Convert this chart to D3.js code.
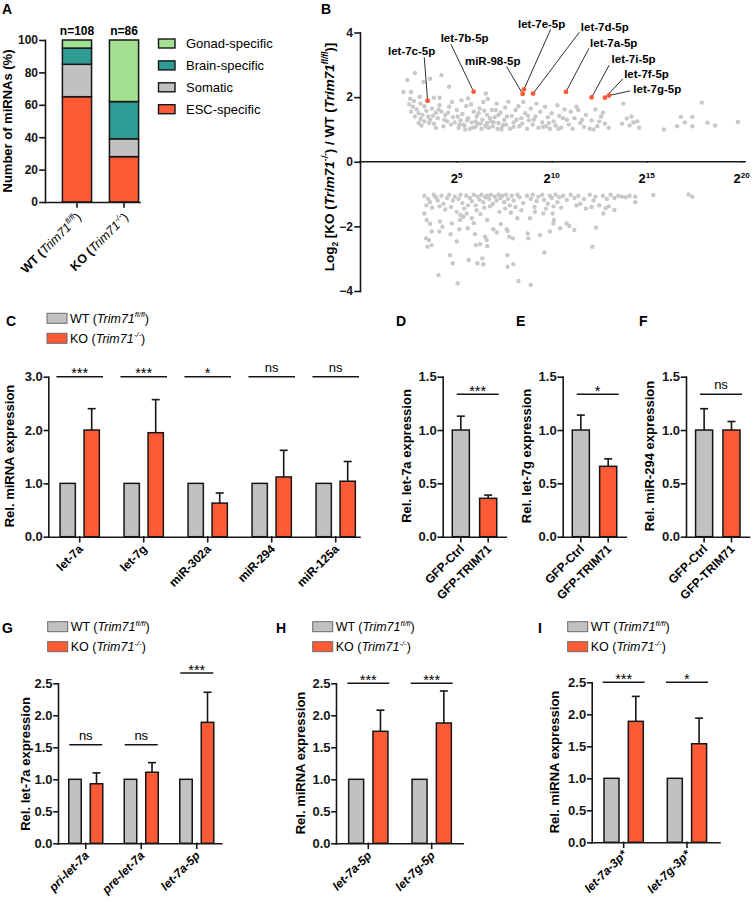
<!DOCTYPE html>
<html><head><meta charset="utf-8">
<script src="https://cdn.jsdelivr.net/npm/d3@7"></script>
<style>
body{margin:0;background:#fff;}
svg{font-family:"Liberation Sans",Arial,Helvetica,sans-serif;}
</style></head>
<body><svg id="fig" width="754" height="902"></svg>
<script>
// ---------------- DATA ----------------
// Panel A
const aGroups = ["WT", "KO"];
const aCategories = ["ESC-specific", "Somatic", "Brain-specific", "Gonad-specific"];
const aWT = [65, 20, 10, 5];
const aKO = [28, 11, 23, 38];
const aN = ["n=108", "n=86"];
const aTicks = [0, 20, 40, 60, 80, 100];

// Panel B  [log2(mean expression), log2 fold change]
const bUp = [[2.2,2.16],[2.4,2.53],[2.8,2.75],[2.6,2.16],[3.25,2.47],[3.6,2.57],[4.2,2.68],[4.6,2.32],[3.05,2.01],[3.8,1.98],[4.1,1.98],[2.55,1.95],
[2.5,1.78],[2.7,1.70],[2.9,1.62],[2.6,1.55],[3.0,1.50],[3.1,1.80],[3.3,1.72],[3.4,1.58],[3.2,1.45],[3.5,1.40],[3.7,1.65],[3.9,1.52],[3.6,1.30],[3.3,1.25],[3.8,1.18],[4.0,1.35],[4.2,1.55],[4.4,1.45],[4.5,1.25],[4.3,1.10],[3.9,1.05],[4.6,1.70],[4.7,1.15],[2.8,1.40],[3.1,1.33],[3.45,1.88],[4.1,1.75],[4.8,1.38],
[5.0,1.60],[5.1,1.05],[5.2,1.28],[5.3,1.48],[5.4,1.12],[5.5,1.72],[5.6,1.35],[5.6,1.96],[5.7,1.02],[5.8,1.22],[5.9,1.55],[6.0,1.08],[6.05,1.40],[6.1,1.18],[6.2,1.65],[6.3,1.02],[6.35,1.30],[6.4,1.85],[6.5,1.12],[6.53,2.11],[6.6,1.45],[6.63,1.94],[6.7,1.05],[6.8,1.25],[6.85,1.60],[6.9,1.10],[7.0,1.38],[7.1,1.80],[7.15,1.02],[7.2,1.20],[7.3,1.52],[7.4,1.08],[7.5,1.30],[7.55,1.68],[7.6,1.15],[7.72,1.86],[7.8,1.02],[7.9,1.42],[8.0,1.22],[5.25,1.90],[5.75,1.78],[6.15,1.50],[6.45,1.58],[6.75,1.35],[7.05,1.60],[7.35,1.00],[5.45,1.00],[6.0,1.25],[6.6,1.20],[7.2,1.45],
[8.1,1.60],[8.25,1.72],[8.3,1.10],[8.4,1.35],[8.6,1.50],[8.7,1.02],[8.8,1.28],[8.9,1.65],[9.0,1.15],[9.15,1.40],[9.3,1.05],[9.4,1.55],[9.5,1.22],[9.65,1.70],[9.7,1.10],[9.8,1.38],[9.9,1.02],[10.0,1.50],[10.1,1.25],[10.2,1.12],[10.4,1.42],[10.5,1.05],[10.67,1.62],[10.8,1.30],[10.9,1.15],[11.0,1.55],[8.5,1.85],[9.2,1.80],[10.3,1.75],[8.0,1.08],
[11.1,1.02],[11.2,1.35],[11.4,1.60],[11.5,1.20],[11.7,1.08],[11.8,1.45],[12.0,1.02],[12.1,1.28],[12.3,1.62],[12.4,1.10],[12.6,1.40],[12.7,1.52],[12.8,1.18],[13.0,1.05],[11.3,1.70],[12.2,1.00],[13.77,1.80],[13.95,1.34],[13.7,1.18],[14.3,1.22],[14.1,1.12],[14.5,1.25],[14.6,1.05],[14.2,1.40],
[15.9,1.00],[16.6,1.10],[16.8,1.39],[17.4,1.39],[17.4,1.10],[17.9,1.83],[18.2,1.21],[18.6,1.12],[19.8,1.23],[17.0,1.22],
[3.15,1.12],[3.55,1.20],[3.75,1.42],[4.05,1.62],[4.35,1.30],[4.55,1.52],[4.9,1.22],[5.05,1.40],[5.35,1.15],[5.55,1.28],[5.85,1.05],[6.25,1.18],[6.55,1.08],[6.95,1.22],[7.45,1.15],[7.65,1.40],[8.15,1.30],[8.45,1.18],[8.75,1.42],[9.05,1.30],[9.55,1.08],[9.85,1.20],[10.35,1.02],[10.6,1.35],[11.6,1.30],[12.5,1.25],[3.0,1.20],[2.75,1.88],[4.75,1.85],[5.15,1.15]];
const bDown = [[3.3,-1.05],[3.5,-1.15],[3.6,-1.25],[3.8,-1.02],[3.9,-1.10],[4.0,-1.20],[4.2,-1.05],[4.3,-1.30],[4.5,-1.12],[4.6,-1.02],[4.8,-1.20],[4.9,-1.08],[5.1,-1.15],[5.2,-1.02],[5.3,-1.28],[5.5,-1.05],[5.7,-1.12],[5.8,-1.22],[5.9,-1.02],[6.0,-1.35],[6.1,-1.08],[6.2,-1.18],[6.3,-1.02],[6.4,-1.25],[6.5,-1.10],[6.6,-1.05],[6.7,-1.15],[6.8,-1.02],[6.9,-1.30],[7.0,-1.08],[7.1,-1.20],[7.2,-1.02],[7.3,-1.12],[7.4,-1.05],[7.5,-1.25],[7.6,-1.02],[7.7,-1.15],[7.8,-1.35],[7.9,-1.05],[8.0,-1.20],[8.2,-1.02],[8.3,-1.10],[8.5,-1.28],[8.7,-1.05],[8.9,-1.15],[9.0,-1.02],[9.2,-1.22],[9.3,-1.08],[9.5,-1.02],[9.6,-1.18],[9.8,-1.30],[9.9,-1.05],[10.0,-1.12],[10.2,-1.02],[10.3,-1.25],[10.4,-1.10],[10.6,-1.05],[10.8,-1.18],[11.0,-1.02],[11.2,-1.12],[11.4,-1.05],[11.5,-1.30],[11.7,-1.15],[12.0,-1.02],[12.2,-1.20],[12.3,-1.08],[12.5,-1.35],[12.7,-1.05],[12.9,-1.15],[13.1,-1.02],[13.3,-1.12],[13.5,-1.05],[13.7,-1.08],[13.9,-1.10],[14.1,-1.05],[14.4,-1.08],[14.4,-1.25],[15.35,-1.03],[17.2,-1.01],[17.4,-1.08],
[3.4,-1.35],[3.7,-1.42],[4.1,-1.38],[4.4,-1.48],[4.7,-1.40],[5.0,-1.55],[5.4,-1.45],[5.6,-1.35],[6.05,-1.50],[6.45,-1.42],[6.75,-1.38],[7.25,-1.55],[7.55,-1.45],[8.1,-1.40],[8.4,-1.50],[9.1,-1.40],[9.7,-1.45],[10.1,-1.38],[10.5,-1.42],[11.3,-1.35],[11.8,-1.45],[12.1,-1.40],[13.0,-1.38],[6.25,-1.62],[7.85,-1.58],[5.2,-1.65],
[3.30,-1.60],[3.42,-1.80],[3.60,-1.92],[3.68,-2.16],[3.39,-2.37],[3.54,-2.42],[3.46,-2.63],[3.68,-2.58],[4.09,-2.16],[4.12,-1.85],[4.25,-2.01],[4.04,-3.51],[4.65,-2.89],[4.79,-3.14],[5.05,-3.76],[5.0,-2.47],[4.68,-2.24],[4.74,-1.91],[5.14,-2.09],[5.18,-1.80],[5.35,-1.70],[5.53,-1.60],[5.58,-2.06],[5.63,-3.04],[5.96,-2.24],[6.0,-2.58],[6.23,-2.55],[6.09,-3.14],[6.40,-3.17],[6.35,-2.99],[6.49,-2.32],[6.58,-2.42],[6.61,-2.61],[6.93,-2.09],[7.11,-2.19],[7.32,-1.93],[7.63,-2.09],[7.68,-2.14],[7.77,-2.32],[7.95,-2.37],[7.67,-2.89],[7.68,-3.25],[7.98,-3.17],[8.25,-3.69],[8.19,-1.75],[8.74,-2.22],[8.77,-2.37],[8.89,-3.81],[9.39,-2.27],[9.61,-2.81],[9.91,-2.16],[10.09,-1.91],[10.12,-1.80],[10.44,-2.06],[10.79,-1.91],[10.93,-1.99],[11.19,-2.11],[12.14,-2.63],[12.33,-2.04],[12.72,-1.60],[12.84,-1.44],[13.30,-1.49],[8.86,-1.75],[9.12,-1.55],[9.56,-1.60],[10.05,-1.60],[5.8,-1.75],[6.6,-1.80],[5.9,-1.90]];
const bHighlightNames = ["let-7c-5p","let-7b-5p","miR-98-5p","let-7e-5p","let-7d-5p","let-7a-5p","let-7i-5p","let-7f-5p","let-7g-5p"];
const bHighlightX = [3.47, 5.89, 8.47, 8.54, 9.02, 10.75, 12.10, 12.80, 13.02];
const bHighlightY = [1.89, 2.17, 2.10, 2.24, 2.11, 2.16, 1.99, 1.98, 2.05];
const bXTicks = [5, 10, 15, 20];
const bYTicks = [-4, -2, 0, 2, 4];

// Panel C
const cCats = ["let-7a", "let-7g", "miR-302a", "miR-294", "miR-125a"];
const cWT = [1, 1, 1, 1, 1];
const cKO = [2.0, 1.95, 0.63, 1.12, 1.04];
const cKOsd = [0.40, 0.62, 0.19, 0.50, 0.37];
const cSig = ["***", "***", "*", "ns", "ns"];
const cSigLevel = [3.0, 3.0, 3.0, 3.0, 3.0];
const cTicks = [0, 1, 2, 3];

// Panels D, E, F
const defCats = ["GFP-Ctrl", "GFP-TRIM71"];
const dVals = [1.0, 0.36], dSD = [0.13, 0.03], dSig = "***";
const eVals = [1.0, 0.66], eSD = [0.14, 0.07], eSig = "*";
const fVals = [1.0, 1.0], fSD = [0.20, 0.08], fSig = "ns";
const defSigLevel = 1.335;
const defTicks = [0, 0.5, 1.0, 1.5];

// Panel G
const gCats = ["pri-let-7a", "pre-let-7a", "let-7a-5p"];
const gWT = [1, 1, 1];
const gKO = [0.93, 1.11, 1.89];
const gKOsd = [0.17, 0.15, 0.47];
const gSig = ["ns", "ns", "***"];
const gSigLevel = [1.54, 1.54, 2.66];
// Panel H
const hCats = ["let-7a-5p", "let-7g-5p"];
const hWT = [1, 1];
const hKO = [1.75, 1.88];
const hKOsd = [0.33, 0.50];
const hSig = ["***", "***"];
const hSigLevel = [2.5, 2.5];
// Panel I
const iCats = ["let-7a-3p*", "let-7g-3p*"];
const iWT = [1, 1];
const iKO = [1.89, 1.54];
const iKOsd = [0.39, 0.40];
const iSig = ["***", "*"];
const iSigLevel = [2.5, 2.5];
const ghiTicks = [0, 0.5, 1.0, 1.5, 2.0, 2.5];

// ---------------- STYLE ----------------
const ORANGE = "#fe5a35", GRAY = "#c1c1c1", TEAL = "#2f9d95", GREEN = "#a4e091";
const DARK = "#161616", PT = "#c8c8c8";
const svg = d3.select("#fig");

function rich(t, parts, fs) {
  let shift = 0;
  parts.forEach(p => {
    const ts = t.append("tspan").text(p.t);
    const target = p.sup ? -0.42 * fs : (p.sub ? 0.3 * fs : 0);
    if (target !== shift) ts.attr("dy", target - shift);
    shift = target;
    if (p.sup || p.sub) ts.attr("font-size", (fs * 0.62).toFixed(1));
    if (p.i) ts.attr("font-style", "italic");
    if (p.w) ts.attr("font-weight", p.w);
  });
  return t;
}
const wtParts = w => [{t: "WT (", w: w}, {t: "Trim71", i: true}, {t: "fl/fl", sup: true, i: true}, {t: ")"}];
const koParts = w => [{t: "KO (", w: w}, {t: "Trim71", i: true}, {t: "-/-", sup: true, i: true}, {t: ")"}];

function styleAxis(a, fs) {
  a.attr("font-family", null).attr("font-size", null);
  a.selectAll("path, line").attr("stroke", DARK).attr("stroke-width", 1.6).attr("stroke-linecap", "square");
  a.selectAll("text").attr("font-size", fs).attr("font-weight", "bold").attr("fill", DARK);
}

// Panel letters
[["A", 2, 14], ["B", 321, 14], ["C", 6, 326], ["D", 396, 326], ["E", 516, 326], ["F", 639, 326], ["G", 2, 633], ["H", 276, 633], ["I", 538, 633]]
  .forEach(([l, x, y]) => svg.append("text").attr("x", x).attr("y", y).attr("font-size", 14).attr("font-weight", "bold").text(l));

// ---------------- PANEL A ----------------
(function () {
  const g = svg.append("g");
  const y = d3.scaleLinear().domain([0, 100]).range([202, 40]);
  const x = d3.scaleBand().domain(aGroups).range([45, 156]).paddingInner(0.38).paddingOuter(0.37);
  const rows = aGroups.map((grp, i) => {
    const o = {group: grp};
    aCategories.forEach((c, j) => o[c] = (i === 0 ? aWT : aKO)[j]);
    return o;
  });
  const color = d3.scaleOrdinal().domain(aCategories).range([ORANGE, GRAY, TEAL, GREEN]);
  const stack = d3.stack().keys(aCategories)(rows);
  g.selectAll("g.layer").data(stack).join("g").attr("fill", d => color(d.key))
    .selectAll("rect").data(d => d).join("rect")
    .attr("x", d => x(d.data.group)).attr("width", x.bandwidth())
    .attr("y", d => y(d[1])).attr("height", d => y(d[0]) - y(d[1]))
    .attr("stroke", DARK).attr("stroke-width", 1.5);
  const ya = g.append("g").attr("transform", "translate(45,0)")
    .call(d3.axisLeft(y).tickValues(aTicks).tickSize(5).tickPadding(2).tickSizeOuter(0));
  styleAxis(ya, 12);
  const xa = g.append("g").attr("transform", "translate(0,202)")
    .call(d3.axisBottom(x).tickSize(5).tickSizeOuter(0).tickFormat(""));
  xa.select(".domain").attr("d", "M45,0.5H140");
  styleAxis(xa, 12);
  aGroups.forEach((grp, i) => {
    g.append("text").attr("x", x(grp) + x.bandwidth() / 2).attr("y", 35).attr("text-anchor", "middle")
      .attr("font-size", 12).attr("font-weight", "bold").text(aN[i]);
    const cx = x(grp) + x.bandwidth() / 2;
    const t = g.append("text").attr("text-anchor", "end").attr("font-size", 12.5)
      .attr("transform", `translate(${cx + 5},${218}) rotate(-45)`);
    rich(t, i === 0 ? wtParts("bold") : koParts("bold"), 12.5);
  });
  g.append("text").attr("transform", "translate(12,121) rotate(-90)").attr("text-anchor", "middle")
    .attr("font-size", 13).attr("font-weight", "bold").text("Number of miRNAs (%)");
  // legend
  const legOrder = aCategories.slice().reverse();
  legOrder.forEach((c, i) => {
    const cy = 43.5 + i * 21.9;
    g.append("rect").attr("x", 158.5).attr("y", cy - 4.5).attr("width", 16.5).attr("height", 9)
      .attr("fill", color(c)).attr("stroke", DARK).attr("stroke-width", 1.4);
    g.append("text").attr("x", 186).attr("y", cy + 4.6).attr("font-size", 13).text(c);
  });
})();

// ---------------- PANEL B ----------------
(function () {
  const g = svg.append("g");
  const x = d3.scaleLinear().domain([0, 20]).range([361.7, 741.7]);
  const y = d3.scaleLinear().domain([-4, 4]).range([291, 32.5]);
  g.selectAll("circle.up").data(bUp.concat(bDown)).join("circle")
    .attr("cx", d => x(d[0])).attr("cy", d => y(d[1])).attr("r", 2.2).attr("fill", PT);
  const ya = g.append("g").attr("transform", "translate(360,0)")
    .call(d3.axisLeft(y).tickValues(bYTicks).tickSize(5).tickPadding(2).tickSizeOuter(0));
  styleAxis(ya, 12);
  const xa = g.append("g").attr("transform", `translate(0,${y(0)})`)
    .call(d3.axisBottom(x).tickValues(bXTicks).tickSize(0).tickSizeOuter(0).tickFormat(""));
  xa.select(".domain").attr("d", "M360,0H745");
  styleAxis(xa, 12);
  bXTicks.forEach(v => {
    const t = g.append("text").attr("x", x(v)).attr("y", 183).attr("text-anchor", "middle")
      .attr("font-size", 13).attr("font-weight", "bold");
    rich(t, [{t: "2"}, {t: String(v), sup: true}], 13);
  });
  // label offsets: [text center dx, baseline dy, line end dx, line end dy]
  const labelOffsets = [[-16, -45.7, -3.4, -43.4], [-9, -49.7, -22.7, -47.4], [-29.9, -29, -16, -27.3],
    [17.7, -61.3, 26.7, -60], [71.7, -62.7, 46.3, -61.4], [47.8, -45, 23, -43.7],
    [42, -34.3, 17.6, -32.3], [41.6, -19.7, 18, -19], [48.2, -2.3, 21, -4.6]];
  bHighlightNames.forEach((n, i) => {
    const px = x(bHighlightX[i]), py = y(bHighlightY[i]);
    const o = labelOffsets[i];
    g.append("line").attr("x1", px).attr("y1", py).attr("x2", px + o[2]).attr("y2", py + o[3])
      .attr("stroke", DARK).attr("stroke-width", 0.9);
    g.append("text").attr("x", px + o[0]).attr("y", py + o[1]).attr("text-anchor", "middle")
      .attr("font-size", 11.5).attr("font-weight", "bold").text(n);
  });
  g.selectAll("circle.hl").data(bHighlightNames).join("circle")
    .attr("cx", (d, i) => x(bHighlightX[i])).attr("cy", (d, i) => y(bHighlightY[i])).attr("r", 2.4).attr("fill", ORANGE);
  const t = g.append("text").attr("transform", "translate(334,157) rotate(-90)").attr("text-anchor", "middle")
    .attr("font-size", 13.5).attr("font-weight", "bold");
  rich(t, [{t: "Log"}, {t: "2", sub: true}, {t: " [KO ("}, {t: "Trim71", i: true}, {t: "-/-", sup: true, i: true},
    {t: ") / WT ("}, {t: "Trim71", i: true}, {t: "fl/fl", sup: true, i: true}, {t: ")]"}], 13.5);
})();

// ---------------- grouped bar panels ----------------
function legend2(x, y1, y2) {
  [[y1, GRAY, wtParts()], [y2, ORANGE, koParts()]].forEach(([cy, col, parts]) => {
    svg.append("rect").attr("x", x).attr("y", cy - 5).attr("width", 20).attr("height", 10)
      .attr("fill", col).attr("stroke", "#6a6a6a").attr("stroke-width", 1);
    const t = svg.append("text").attr("x", x + 23).attr("y", cy + 4.4).attr("font-size", 12.5);
    rich(t, parts, 12.5);
  });
}

function sigMark(g, cx, x1, x2, ly, s) {
  g.append("line").attr("x1", x1).attr("x2", x2).attr("y1", ly).attr("y2", ly)
    .attr("stroke", DARK).attr("stroke-width", 1.6);
  g.append("text").attr("x", cx).attr("y", s === "ns" ? ly - 5 : ly + 1.5).attr("text-anchor", "middle")
    .attr("font-size", s === "ns" ? 13 : 14.5).text(s);
}

function errBar(g, cx, y, v, sd) {
  if (!(sd > 0)) return;
  g.append("line").attr("x1", cx).attr("x2", cx).attr("y1", y(v)).attr("y2", y(v + sd))
    .attr("stroke", DARK).attr("stroke-width", 1.6);
  g.append("line").attr("x1", cx - 4).attr("x2", cx + 4).attr("y1", y(v + sd)).attr("y2", y(v + sd))
    .attr("stroke", DARK).attr("stroke-width", 1.6);
}

function xLabels(g, x, cats, axisY, italic, fs) {
  cats.forEach(c => {
    const cx = x(c) + x.bandwidth() / 2;
    g.append("text").attr("text-anchor", "end").attr("font-size", fs).attr("font-weight", "bold")
      .attr("font-style", italic ? "italic" : null)
      .attr("transform", `translate(${cx + 4},${axisY + 13}) rotate(-45)`).text(c);
  });
}

function groupedPanel(p) {
  const g = svg.append("g");
  const y = d3.scaleLinear().domain([0, p.yMax]).range([p.yBottom, p.yTop]);
  const x = d3.scaleBand().domain(p.cats).range(p.xRange).padding(0);
  const sub = d3.scaleBand().domain(["WT", "KO"]).range([-p.subHalf, p.subHalf]).paddingInner(p.subPad);
  const rows = p.cats.map((c, i) => ({cat: c, WT: p.wt[i], KO: p.ko[i], sd: p.sd[i]}));
  const bars = rows.flatMap(r => [{cat: r.cat, k: "WT", v: r.WT, sd: 0}, {cat: r.cat, k: "KO", v: r.KO, sd: r.sd}]);
  const bx = d => x(d.cat) + x.bandwidth() / 2 + sub(d.k);
  bars.forEach(d => errBar(g, bx(d) + sub.bandwidth() / 2, y, d.v, d.sd));
  g.selectAll("rect.bar").data(bars).join("rect")
    .attr("x", bx).attr("width", sub.bandwidth())
    .attr("y", d => y(d.v)).attr("height", d => y(0) - y(d.v))
    .attr("fill", d => d.k === "WT" ? GRAY : ORANGE).attr("stroke", DARK).attr("stroke-width", 1.5);
  const ya = g.append("g").attr("transform", `translate(${p.x0},0)`)
    .call(d3.axisLeft(y).tickValues(p.ticks).tickFormat(d3.format(".1f")).tickSize(4).tickPadding(1.5).tickSizeOuter(0));
  styleAxis(ya, 13);
  const xa = g.append("g").attr("transform", `translate(0,${p.yBottom})`)
    .call(d3.axisBottom(x).tickSize(5).tickSizeOuter(0).tickFormat(""));
  xa.select(".domain").attr("d", `M${p.x0},0.5H${p.xEnd}`);
  styleAxis(xa, 13);
  rows.forEach((r, i) => {
    const cx = x(r.cat) + x.bandwidth() / 2;
    sigMark(g, cx, cx - p.sigHalf, cx + p.sigHalf, y(p.sigLevel[i]), p.sig[i]);
  });
  xLabels(g, x, p.cats, p.yBottom, p.italic, 12);
  g.append("text").attr("transform", `translate(${p.ylabX},${p.ylabY}) rotate(-90)`).attr("text-anchor", "middle")
    .attr("font-size", 13).attr("font-weight", "bold").text(p.ylabel);
}

function pairPanel(p) {
  const g = svg.append("g");
  const y = d3.scaleLinear().domain([0, 1.5]).range([536.7, 376.7]);
  const x = d3.scaleBand().domain(defCats).range([p.x0, p.x0 + 63.6]).paddingInner(0.375).paddingOuter(0.35);
  const bars = defCats.map((c, i) => ({cat: c, v: p.vals[i], sd: p.sd[i]}));
  bars.forEach(d => errBar(g, x(d.cat) + x.bandwidth() / 2, y, d.v, d.sd));
  g.selectAll("rect.bar").data(bars).join("rect")
    .attr("x", d => x(d.cat)).attr("width", x.bandwidth())
    .attr("y", d => y(d.v)).attr("height", d => y(0) - y(d.v))
    .attr("fill", (d, i) => i === 0 ? GRAY : ORANGE).attr("stroke", DARK).attr("stroke-width", 1.5);
  const ya = g.append("g").attr("transform", `translate(${p.x0},0)`)
    .call(d3.axisLeft(y).tickValues(defTicks).tickFormat(d3.format(".1f")).tickSize(4.5).tickPadding(1.5).tickSizeOuter(0));
  styleAxis(ya, 13);
  const xa = g.append("g").attr("transform", "translate(0,536.7)")
    .call(d3.axisBottom(x).tickSize(5).tickSizeOuter(0).tickFormat(""));
  xa.select(".domain").attr("d", `M${p.x0},0.5H${p.x0 + 63.6}`);
  styleAxis(xa, 13);
  const mid = p.x0 + 35;
  sigMark(g, mid, mid - 21, mid + 21, y(defSigLevel), p.sig);
  xLabels(g, x, defCats, 536.7, false, 12);
  g.append("text").attr("transform", `translate(${p.x0 - 32},456) rotate(-90)`).attr("text-anchor", "middle")
    .attr("font-size", 13).attr("font-weight", "bold").text(p.ylabel);
}

// Panel C
legend2(47, 318.3, 338.3);
groupedPanel({cats: cCats, wt: cWT, ko: cKO, sd: cKOsd, sig: cSig, sigLevel: cSigLevel, ticks: cTicks,
  yMax: 3, yBottom: 536.7, yTop: 376.7, x0: 48.3, xEnd: 360, xRange: [47.7, 367.7], subHalf: 19.65, subPad: 0.3625,
  sigHalf: 23.3, italic: false, ylabel: "Rel. miRNA expression", ylabX: 14, ylabY: 456});
// Panels D E F
pairPanel({x0: 442.7, vals: dVals, sd: dSD, sig: dSig, ylabel: "Rel. let-7a expression"});
pairPanel({x0: 562.7, vals: eVals, sd: eSD, sig: eSig, ylabel: "Rel. let-7g expression"});
pairPanel({x0: 686, vals: fVals, sd: fSD, sig: fSig, ylabel: "Rel. miR-294 expression"});
// Panel G
legend2(47.7, 626.7, 646.7);
groupedPanel({cats: gCats, wt: gWT, ko: gKO, sd: gKOsd, sig: gSig, sigLevel: gSigLevel, ticks: ghiTicks,
  yMax: 2.5, yBottom: 843.3, yTop: 683.3, x0: 58, xEnd: 221.7, xRange: [58, 224.5], subHalf: 17, subPad: 0.42,
  sigHalf: 16.5, italic: true, ylabel: "Rel. let-7a expression", ylabX: 30, ylabY: 764});
// Panel H
legend2(312.7, 626.7, 646.7);
groupedPanel({cats: hCats, wt: hWT, ko: hKO, sd: hKOsd, sig: hSig, sigLevel: hSigLevel, ticks: ghiTicks,
  yMax: 2.5, yBottom: 843.3, yTop: 683.3, x0: 336, xEnd: 463.3, xRange: [336.6, 463.4], subHalf: 19.65, subPad: 0.383,
  sigHalf: 21, italic: true, ylabel: "Rel. miRNA expression", ylabX: 305, ylabY: 763});
// Panel I
legend2(567.7, 626.7, 646.7);
groupedPanel({cats: iCats, wt: iWT, ko: iKO, sd: iKOsd, sig: iSig, sigLevel: iSigLevel, ticks: ghiTicks,
  yMax: 2.5, yBottom: 842.3, yTop: 682.3, x0: 591.7, xEnd: 720, xRange: [592, 718.6], subHalf: 19.65, subPad: 0.383,
  sigHalf: 21, italic: true, ylabel: "Rel. miRNA expression", ylabX: 559, ylabY: 762});
</script>
</body></html>
